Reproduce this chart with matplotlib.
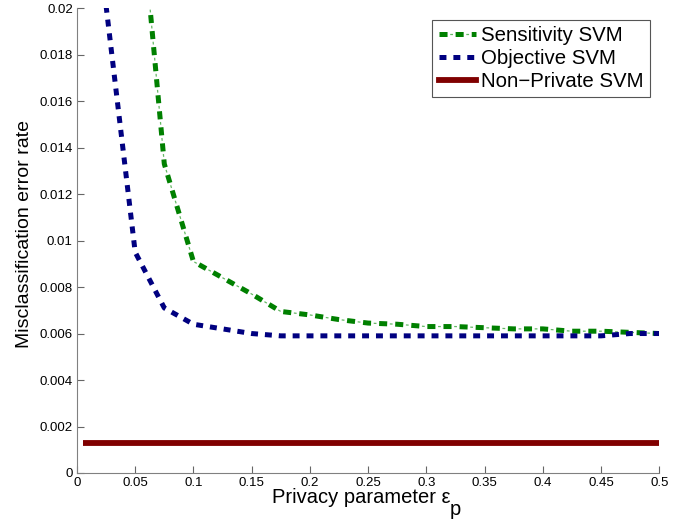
import matplotlib
matplotlib.use("Agg")
import matplotlib.pyplot as plt
from matplotlib.lines import Line2D

plt.rcParams['font.family'] = ['Liberation Sans', 'DejaVu Sans']
plt.rcParams['lines.scale_dashes'] = False

# privacy parameter values
eps = [0.025, 0.05, 0.075, 0.1, 0.125, 0.15, 0.175, 0.2, 0.225, 0.25, 0.275, 0.3,
       0.325, 0.35, 0.375, 0.4, 0.425, 0.45, 0.475, 0.5]
sensitivity_err = [0.045, 0.027, 0.0133, 0.0091, 0.0084, 0.0077, 0.00695, 0.0068, 0.0066,
                   0.00645, 0.0064, 0.0063, 0.0063, 0.00625, 0.0062, 0.0062, 0.0061,
                   0.0061, 0.00605, 0.006]
objective_err = [0.0201, 0.0095, 0.0071, 0.0064, 0.0062, 0.006, 0.0059, 0.0059, 0.0059,
                 0.0059, 0.0059, 0.0059, 0.0059, 0.0059, 0.0059, 0.0059, 0.0059,
                 0.0059, 0.006, 0.006]
nonprivate_eps = [0.005, 0.5]
nonprivate_err = [0.0013, 0.0013]

green = (0, 0.5, 0)
light_green = (0.4, 0.72, 0.4)
blue = (0, 0, 0.5)
red = (0.5, 0, 0)

# dash patterns in points
thick_dash = dict(lw=3.6, linestyle=(0, (5.8, 5.8)), dash_capstyle='butt')
thin_dash = dict(lw=0.9, linestyle=(3.9, (2.0, 9.6)), dash_capstyle='butt')
blue_dash = dict(lw=3.6, linestyle=(0, (5.0, 5.0)), dash_capstyle='butt')

fig = plt.figure(figsize=(6.81, 5.2), dpi=100)
ax = fig.add_axes([0.113, 0.0904, 0.855, 0.894])

ax.plot(eps, sensitivity_err, color=green, **thick_dash)
ax.plot(eps, sensitivity_err, color=light_green, **thin_dash)
ax.plot(eps, objective_err, color=blue, **blue_dash)
ax.plot(nonprivate_eps, nonprivate_err, color=red, lw=4.2, solid_capstyle='butt')

ax.set_xlim(0, 0.5)
ax.set_ylim(0, 0.02)
ax.set_xticks([0, 0.05, 0.1, 0.15, 0.2, 0.25, 0.3, 0.35, 0.4, 0.45, 0.5])
ax.set_xticklabels(['0', '0.05', '0.1', '0.15', '0.2', '0.25', '0.3', '0.35', '0.4', '0.45', '0.5'])
ax.set_yticks([0, 0.002, 0.004, 0.006, 0.008, 0.01, 0.012, 0.014, 0.016, 0.018, 0.02])
ax.set_yticklabels(['0', '0.002', '0.004', '0.006', '0.008', '0.01', '0.012', '0.014',
                    '0.016', '0.018', '0.02'])
ax.tick_params(direction='in', length=5, labelsize=9.5, color='#666666', pad=3)
for side in ('top', 'right'):
    ax.spines[side].set_visible(False)
for side in ('left', 'bottom'):
    ax.spines[side].set_color('#808080')

# axis labels, epsilon with a full-size lowered subscript
xlab = fig.text(272 / 681, 1 - 503 / 520, 'Privacy parameter \u03b5', fontsize=14.5,
                ha='left', va='baseline')
ax.annotate('p', xy=(1, 0), xycoords=xlab, xytext=(-0.5, -6), textcoords='offset points',
            fontsize=14.5, ha='left', va='baseline', annotation_clip=False)
fig.text(25 / 681, 1 - 234 / 520, 'Misclassification error rate', fontsize=14,
         rotation=90, ha='center', va='center')

handles = [
    (Line2D([], [], color=green, **thick_dash),
     Line2D([], [], color=light_green, **thin_dash)),
    Line2D([], [], color=blue, **blue_dash),
    Line2D([], [], color=red, lw=4.2),
]
labels = ['Sensitivity SVM', 'Objective SVM', 'Non\u2212Private SVM']
leg = ax.legend(handles, labels, loc='upper right', fontsize=14.7, fancybox=False,
                framealpha=1, edgecolor='#555555', handlelength=1.85, handletextpad=0.25,
                bbox_to_anchor=(650 / 681, 1 - 20 / 520), bbox_transform=fig.transFigure,
                borderaxespad=0, labelspacing=0.2, borderpad=0.3)
leg.get_frame().set_linewidth(0.8)

fig.savefig('out.png', dpi=100)
